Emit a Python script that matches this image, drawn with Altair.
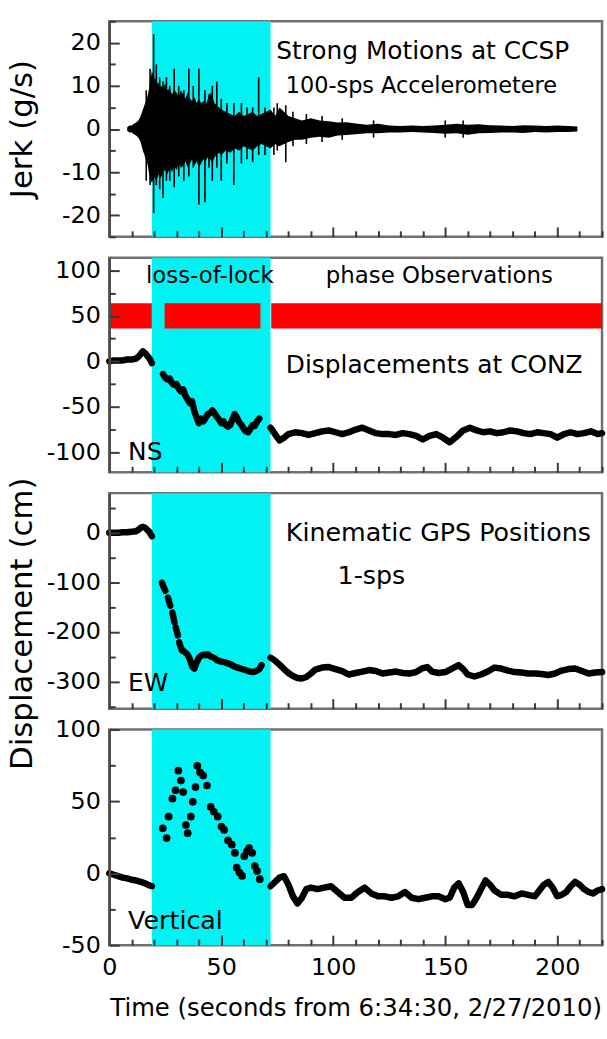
import altair as alt
import pandas as pd

FONT = "DejaVu Sans"
PLOT_W = 496
X_DOMAIN = [0, 220]
X_TICKS = list(range(0, 221, 10))
LOCK_START, LOCK_END = 19, 72          # seconds during which phase lock was lost

# ---------------- 100-sps accelerometer jerk (g/s) at CCSP: envelope + spikes
jerk_t = [8, 9, 10, 11, 12, 13, 14, 15, 16, 17,
          18, 19, 20, 21, 22, 23, 24, 25, 26, 27,
          28, 29, 30, 31, 32, 33, 34, 35, 36, 37,
          38, 39, 40, 41, 42, 43, 44, 45, 46, 47,
          48, 49, 50, 52, 54, 56, 58, 60, 62, 64,
          66, 68, 70, 72, 74, 76, 78, 80, 83, 86,
          90, 94, 98, 102, 106, 110, 115, 120, 125, 130,
          135, 140, 145, 150, 155, 160, 165, 170, 175, 180,
          185, 190, 195, 200, 205, 209]
jerk_hi = [0.4, 0.8, 0.8, 1.2, 1.5, 2.0, 3.0, 4.5, 6.0, 7.5,
           10.0, 13.5, 12.0, 11.0, 10.5, 10.0, 9.5, 10.5, 9.0, 9.5,
           8.0, 9.0, 8.5, 7.5, 9.0, 8.0, 7.0, 8.5, 7.0, 6.5,
           7.5, 6.0, 7.0, 6.0, 6.5, 5.5, 7.0, 8.5, 7.5, 6.0,
           5.5, 5.0, 4.5, 4.0, 3.5, 3.0, 4.0, 3.0, 3.5, 4.0,
           3.0, 3.5, 4.0, 4.5, 3.0, 5.0, 4.0, 3.0, 2.5, 2.0,
           2.5, 2.0, 1.8, 1.5, 1.6, 1.3, 1.0, 1.2, 0.8, 0.7,
           0.8, 0.7, 0.8, 1.0, 1.2, 1.0, 1.1, 0.9, 0.8, 0.7,
           0.9, 0.8, 0.7, 0.8, 0.7, 0.6]
jerk_lo = [-0.4, -0.8, -0.8, -1.2, -1.5, -2.0, -3.0, -5.0, -6.5, -8.0,
           -11.0, -12.5, -11.0, -12.0, -10.5, -11.5, -10.0, -9.5, -10.5, -9.0,
           -10.0, -8.5, -9.5, -8.0, -9.0, -8.5, -7.5, -9.0, -8.0, -7.0,
           -8.5, -7.5, -9.0, -8.0, -7.0, -7.5, -6.5, -7.0, -8.0, -6.5,
           -6.0, -5.5, -6.0, -5.0, -5.5, -4.5, -5.0, -4.0, -4.5, -5.0,
           -4.0, -3.5, -4.0, -4.5, -3.5, -4.0, -3.5, -3.0, -2.5, -2.5,
           -2.0, -1.8, -2.0, -1.5, -1.4, -1.2, -1.0, -1.0, -0.8, -0.8,
           -0.7, -0.8, -0.9, -1.1, -1.0, -1.3, -1.0, -0.9, -0.8, -0.8,
           -0.9, -0.7, -0.8, -0.7, -0.7, -0.6]

spike_t = [16.5, 18.2, 19.8, 21.0, 22.5, 24.0, 25.5, 27.0, 29.0, 31.0,
           33.3, 35.5, 37.5, 40.0, 42.7, 44.5, 46.0, 48.0, 50.0, 52.5,
           55.6, 59.0, 61.5, 64.0, 66.7, 69.5, 73.5, 75.0, 78.8, 82.0,
           88.0, 95.0, 104.0, 118.0, 150.0, 158.0]
spike_hi = [9, 14, 22, 15, 12, 11, 12, 10, 14, 10,
            9, 14, 10, 14, 9, 8, 10, 11, 7, 6,
            6, 6, 5, 5, 12, 5, 5, 6, 5.5, 4,
            3.5, 3, 2.5, 2, 2, 2]
spike_lo = [-12, -13, -19.5, -13, -14, -16, -12, -12, -13.5, -11,
            -12, -11, -9, -17.5, -17, -9, -12, -9, -12, -8,
            -13, -8, -7, -7.7, -6, -6, -6, -5, -7.7, -4,
            -3.5, -3, -2.5, -2, -2, -2]

# ---------------- 1-sps kinematic GPS displacements (cm) at CONZ
ns_pre_t = [0, 2, 4, 6, 8, 10, 12, 13, 14, 15, 16, 17, 18, 19]
ns_pre_v = [0, 1, 1, 1, 2, 2, 3, 5, 8, 11, 9, 6, 3, -2]
ns_mid_t = [24, 25, 26, 27, 28, 29, 30, 31, 32, 33,
            34, 35, 36, 37, 38, 39, 40, 41, 42, 43,
            44, 45, 46, 47, 48, 49, 50, 51, 52, 53,
            54, 55, 56, 57, 58, 59, 60, 61, 62, 63,
            64, 65, 66, 67]
ns_mid_v = [-14, -18, -20, -19, -24, -26, -25, -30, -33, -31,
            -38, -42, -46, -44, -55, -62, -68, -63, -66, -62,
            -58, -57, -54, -57, -61, -64, -68, -66, -70, -72,
            -70, -64, -58, -62, -67, -70, -74, -77, -78, -74,
            -70, -71, -66, -63]
ns_post_t = [72, 74, 76, 78, 80, 83, 86, 89, 92, 95,
             98, 101, 104, 107, 110, 113, 116, 119, 122, 125,
             128, 131, 134, 137, 140, 143, 146, 149, 152, 155,
             158, 161, 164, 167, 170, 173, 176, 179, 182, 185,
             188, 191, 194, 197, 200, 203, 206, 209, 212, 215,
             218, 220]
ns_post_v = [-73, -80, -87, -84, -80, -78, -79, -81, -79, -77,
             -76, -78, -80, -78, -75, -73, -76, -79, -80, -80,
             -81, -79, -80, -82, -86, -82, -80, -84, -89, -83,
             -76, -73, -76, -78, -77, -79, -78, -76, -77, -79,
             -80, -78, -79, -80, -84, -80, -78, -80, -79, -77,
             -80, -79]

ew_pre_t = [0, 2, 4, 6, 8, 10, 12, 13, 14, 15, 16, 17, 18, 19]
ew_pre_v = [0, 0, 0, 1, 1, 2, 3, 6, 10, 12, 10, 6, 1, -7]
ew_dash_t = [(23.5, 25.0), (26.2, 27.2), (28.2, 29.1), (29.7, 30.6), (31.2, 32.4)]
ew_dash_v = [(-101, -117), (-131, -147), (-161, -181), (-191, -207), (-221, -237)]
ew_mid_t = [33, 34, 35, 36, 37, 38, 39, 40, 41, 42,
            43, 44, 45, 46, 47, 48, 50, 52, 54, 56,
            58, 60, 62, 64, 65, 66, 67, 68]
ew_mid_v = [-238, -242, -246, -255, -270, -274, -262, -252, -248, -246,
            -247, -245, -249, -251, -253, -257, -260, -262, -265, -270,
            -273, -276, -279, -281, -280, -278, -275, -267]
ew_post_t = [72, 74, 76, 78, 80, 82, 84, 86, 88, 90,
             92, 95, 98, 101, 104, 107, 110, 113, 116, 119,
             122, 125, 128, 131, 134, 137, 140, 142, 144, 147,
             150, 153, 156, 158, 160, 163, 166, 169, 172, 175,
             178, 181, 184, 187, 190, 193, 196, 199, 202, 205,
             208, 211, 214, 217, 220]
ew_post_v = [-252, -258, -266, -275, -283, -289, -293, -294, -291, -284,
             -276, -272, -271, -275, -279, -286, -283, -280, -277, -279,
             -284, -282, -280, -283, -284, -281, -273, -271, -280, -283,
             -281, -274, -267, -275, -286, -290, -286, -280, -272, -274,
             -278, -281, -282, -284, -284, -285, -287, -284, -278, -275,
             -274, -279, -284, -282, -281]

up_pre_t = [0, 2, 4, 6, 8, 10, 12, 14, 16, 18, 19]
up_pre_v = [0, -1, -2, -3, -3.5, -4.5, -5, -6, -7, -8.5, -9]
up_dot_t = [23.9, 25.6, 26.5, 28.2, 29.6, 30.8, 32.0, 33.0, 34.2, 35.0,
            36.4, 37.3, 38.5, 39.3, 40.5, 41.9, 43.6, 45.3, 46.7, 48.4,
            50.1, 51.3, 53.0, 54.7, 56.1, 56.9, 58.1, 59.3, 60.3, 61.5,
            62.4, 63.8, 65.0, 66.0, 67.2]
up_dot_v = [31.3, 24.5, 39.4, 51.9, 57.7, 71.4, 64.5, 56.5, 33.6, 27.9,
            39.4, 49.7, 60.0, 74.8, 70.3, 68.0, 61.1, 46.2, 42.8, 39.4,
            32.5, 30.2, 22.9, 19.9, 14.2, 3.9, 0.5, -1.8, 11.9, 15.3,
            17.6, 14.2, 5.0, 1.6, -4.1]
up_post_t = [72, 74, 76, 78, 80, 82, 84, 86, 88, 90,
             93, 96, 99, 102, 105, 108, 111, 114, 117, 120,
             123, 126, 129, 132, 135, 138, 141, 144, 147, 150,
             152, 154, 156, 158, 160, 162, 164, 166, 168, 170,
             172, 175, 178, 181, 184, 187, 190,
             192, 194, 196, 198, 200, 202, 204, 206, 208, 210,
             212, 214, 216, 218, 220]
up_post_v = [-9, -6, -3, -2, -8, -16, -21, -17, -11, -10,
             -11, -10, -9, -13, -17, -17, -13, -10, -14, -16,
             -16, -17, -16, -13, -17, -18, -17, -16, -16, -18,
             -17, -10, -7, -13, -22, -22, -17, -11, -5, -8,
             -12, -15, -15, -16, -14, -15, -16,
             -12, -8, -6, -10, -16, -15, -13, -9, -6, -8,
             -11, -13, -14, -12, -11]

# tracking status bar: spans with phase observations available
track_start = [0, 24.7, 72.3]
track_end = [19, 67.5, 220]
TRACK_LO, TRACK_HI = 36, 64


def runs(*pairs):
    rows = []
    for k, (ts, vs) in enumerate(pairs):
        if len(ts) != len(vs):
            raise ValueError(f"run {k}: {len(ts)} times vs {len(vs)} values")
        rows += [{"t": t, "v": v, "run": k} for t, v in zip(ts, vs)]
    return pd.DataFrame(rows)


def xenc(field="t", axis=None):
    return alt.X(f"{field}:Q", scale=alt.Scale(domain=X_DOMAIN, nice=False, zero=False), axis=axis)


def yscale(dom):
    return alt.Scale(domain=dom, nice=False, zero=False)


HYPHEN_LABEL = "'' + datum.value"


def panel(layers, dom, labels, major, minor, height, texts, y_title=None, title_y=None, bottom=False):
    lab_kw = dict(values=labels, tickSize=0, labelPadding=9, labelFontSize=24, labelFont=FONT,
                  labelColor="black", labelFlush=False, labelOverlap=False, labelExpr=HYPHEN_LABEL,
                  domainColor="#4d4d4d", domainWidth=2.5, grid=False, zindex=1)
    if y_title:
        lab_kw.update(title=y_title, titleFont=FONT, titleFontSize=31, titleFontWeight="normal",
                      titleColor="black", titleX=-87, titleY=title_y, titleAlign="center",
                      titleBaseline="middle", titleAngle=-90)
    else:
        lab_kw.update(title=None)

    base_x_axis = None
    if bottom:
        base_x_axis = alt.Axis(values=[0, 50, 100, 150, 200], tickSize=0, labelPadding=11,
                               labelFontSize=24, labelFont=FONT, labelColor="black",
                               labelFlush=False, domain=False, grid=False,
                               title="Time (seconds from 6:34:30, 2/27/2010)", titleFont=FONT,
                               titleFontSize=24.5, titleFontWeight="normal", titleColor="black",
                               titlePadding=17)

    box = pd.DataFrame({"t": X_DOMAIN, "v": dom})
    labels_layer = alt.Chart(box).mark_point(opacity=0).encode(
        x=xenc(axis=base_x_axis), y=alt.Y("v:Q", scale=yscale(dom), axis=alt.Axis(**lab_kw)))

    # inward tick marks: axes laid over the bottom and left frame edges
    y_ticks = [t for t in range(-400, 201, minor) if dom[0] <= t <= dom[1]]
    tick_layer = alt.Chart(box).mark_point(opacity=0).encode(
        x=xenc(axis=alt.Axis(orient="top", offset=-height, values=X_TICKS, labels=False,
                             domain=False, grid=False, title=None, tickColor="#3a3a3a",
                             tickWidth=2, zindex=1,
                             tickSize={"condition": {"test": "datum.value % 50 === 0", "value": 10},
                                       "value": 6})),
        y=alt.Y("v:Q", scale=yscale(dom),
                axis=alt.Axis(orient="right", offset=-PLOT_W, values=y_ticks, labels=False,
                              domain=False, grid=False, title=None, tickColor="#3a3a3a",
                              tickWidth=2, zindex=1,
                              tickSize={"condition": {"test": f"datum.value % {major} === 0",
                                                      "value": 10}, "value": 6})))

    lock = alt.Chart(pd.DataFrame({"a": [LOCK_START], "b": [LOCK_END]})).mark_rect(
        color="#00f2f2").encode(x=xenc("a"), x2="b:Q")

    txt = alt.Chart(pd.DataFrame(texts, columns=["label", "t", "v", "fs"])).mark_text(
        align="left", baseline="middle", font=FONT, color="black").encode(
        x=xenc(), y=alt.Y("v:Q", scale=yscale(dom), axis=None), text="label:N",
        size=alt.Size("fs:Q", scale=None, legend=None))

    body = [lock] + [lay(dom) for lay in layers] + [txt, labels_layer, tick_layer]
    return alt.layer(*body).resolve_axis(x="independent", y="independent").properties(
        width=PLOT_W, height=height)


def line_layer(df):
    def make(dom):
        return alt.Chart(df).mark_line(color="black", strokeWidth=6.5, strokeCap="round",
                                       strokeJoin="round").encode(
            x=xenc(), y=alt.Y("v:Q", scale=yscale(dom), axis=None), detail="run:N")
    return make


def dot_layer(df):
    def make(dom):
        return alt.Chart(df).mark_circle(color="black", size=60, opacity=1).encode(
            x=xenc(), y=alt.Y("v:Q", scale=yscale(dom), axis=None))
    return make


# ---- panel 1: jerk
env = pd.DataFrame({"t": jerk_t, "hi": jerk_hi, "lo": jerk_lo})
spk = pd.DataFrame({"t": spike_t, "hi": spike_hi, "lo": spike_lo})
J_DOM = [-25, 25]


def jerk_area(dom):
    return alt.Chart(env).mark_area(color="black", opacity=1).encode(
        x=xenc(), y=alt.Y("hi:Q", scale=yscale(dom), axis=None), y2="lo:Q")


def jerk_spikes(dom):
    return alt.Chart(spk).mark_rule(color="black", strokeWidth=1.6).encode(
        x=xenc(), y=alt.Y("hi:Q", scale=yscale(dom), axis=None), y2="lo:Q")


p1 = panel([jerk_area, jerk_spikes], J_DOM, [-20, -10, 0, 10, 20], 10, 5, 217,
           [("Strong Motions at CCSP", 74.5, 18, 25),
            ("100-sps Accelerometere", 78.8, 10, 22.5)],
           y_title="Jerk (g/s)", title_y=108)

# ---- panel 2: NS
N_DOM = [-122, 114]
track = pd.DataFrame({"a": track_start, "b": track_end, "lo": [TRACK_LO] * 3, "hi": [TRACK_HI] * 3})


def track_bar(dom):
    return alt.Chart(track).mark_rect(color="#ff0000").encode(
        x=xenc("a"), x2="b:Q", y=alt.Y("lo:Q", scale=yscale(dom), axis=None), y2="hi:Q")


ns = runs((ns_pre_t, ns_pre_v), (ns_mid_t, ns_mid_v), (ns_post_t, ns_post_v))
p2 = panel([track_bar, line_layer(ns)], N_DOM, [-100, -50, 0, 50, 100], 50, 25, 216,
           [("loss-of-lock", 16.4, 94, 23), ("phase Observations", 96.7, 94, 23),
            ("Displacements at CONZ", 78.8, -4, 25), ("NS", 8.4, -100, 25)])

# ---- panel 3: EW
E_DOM = [-355, 80]
ew = runs((ew_pre_t, ew_pre_v), *[(list(a), list(b)) for a, b in zip(ew_dash_t, ew_dash_v)],
          (ew_mid_t, ew_mid_v), (ew_post_t, ew_post_v))
p3 = panel([line_layer(ew)], E_DOM, [-300, -200, -100, 0], 100, 50, 217,
           [("Kinematic GPS Positions", 78.8, 0, 25.5), ("1-sps", 101.9, -87, 25.5),
            ("EW", 8.4, -304, 25)],
           y_title="Displacement (cm)", title_y=131)

# ---- panel 4: vertical
U_DOM = [-50, 100]
up = runs((up_pre_t, up_pre_v), (up_post_t, up_post_v))
up_dots = pd.DataFrame({"t": up_dot_t, "v": up_dot_v})
p4 = panel([line_layer(up), dot_layer(up_dots)], U_DOM, [-50, 0, 50, 100], 50, 25, 217,
           [("Vertical", 8.4, -33, 25.5)], bottom=True)

chart = alt.vconcat(p1, p2, p3, p4, spacing=21, bounds="flush").properties(
    padding={"left": 5, "top": 14, "right": 0, "bottom": 0}, background="white"
).configure_view(stroke="#707070", strokeWidth=2.5)

chart.save("out.html", embed_options={"renderer": "svg", "actions": False})
